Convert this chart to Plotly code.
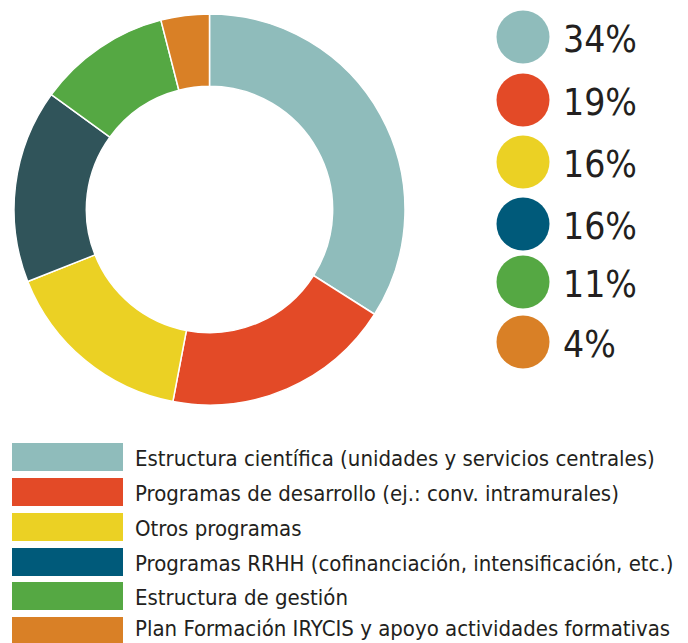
import plotly.graph_objects as go

categories = [
    "Estructura científica (unidades y servicios centrales)",
    "Programas de desarrollo (ej.: conv. intramurales)",
    "Otros programas",
    "Programas RRHH (cofinanciación, intensificación, etc.)",
    "Estructura de gestión",
    "Plan Formación IRYCIS y apoyo actividades formativas",
]
values = [34, 19, 16, 16, 11, 4]
pct_labels = ["34%", "19%", "16%", "16%", "11%", "4%"]
pie_colors = ["#8fbcbb", "#e34a27", "#ebd124", "#30545a", "#55a843", "#d98026"]
legend_colors = ["#8fbcbb", "#e34a27", "#ebd124", "#005a7a", "#55a843", "#d98026"]

# page has an 8px body margin; compensate so coordinates map to window pixels
OFF = 8
W, H = 688, 643
FW, FH = W - OFF, H - OFF
TEXT = "#231f20"
FONT = "DejaVu Sans Condensed, DejaVu Sans, sans-serif"


def px_x(v):
    return (v - OFF) / FW


def px_y(v):
    return 1 - (v - OFF) / FH


fig = go.Figure()

fig.add_trace(go.Pie(
    labels=categories,
    values=values,
    marker=dict(colors=pie_colors, line=dict(color="white", width=1.5)),
    hole=0.63,
    sort=False,
    direction="clockwise",
    rotation=0,
    textinfo="none",
    hoverinfo="label+percent",
    showlegend=False,
    domain=dict(x=[px_x(14), px_x(405)], y=[px_y(405), px_y(14)]),
))

# right-side circle legend
circle_y = [37, 100, 162, 224, 282, 342]
fig.add_trace(go.Scatter(
    x=[523] * len(values),
    y=circle_y,
    mode="markers",
    marker=dict(size=53, color=legend_colors, line=dict(width=0)),
    hoverinfo="skip",
    showlegend=False,
    xaxis="x", yaxis="y",
))
for yy, t in zip(circle_y, pct_labels):
    fig.add_annotation(x=561, y=yy + 2, xref="x", yref="y", text=t,
                       showarrow=False, xanchor="left", yanchor="middle",
                       font=dict(family=FONT, size=37, color=TEXT))

# bottom rectangle legend
rect_top = [443, 478, 513, 548, 582, 617]
for i, (yt, c, cat) in enumerate(zip(rect_top, legend_colors, categories)):
    fig.add_shape(type="rect", xref="x", yref="y", x0=12, x1=123,
                  y0=yt, y1=min(yt + 28, H), fillcolor=c, line=dict(width=0))
    ty = yt + 15 if i < len(categories) - 1 else yt + 11
    fig.add_annotation(x=133, y=ty, xref="x", yref="y", text=cat,
                       showarrow=False, xanchor="left", yanchor="middle",
                       font=dict(family=FONT, size=22, color=TEXT))

fig.update_layout(
    width=FW, height=FH,
    margin=dict(l=0, r=0, t=0, b=0),
    paper_bgcolor="white", plot_bgcolor="rgba(0,0,0,0)",
    xaxis=dict(range=[OFF, W], visible=False, fixedrange=True, domain=[0, 1]),
    yaxis=dict(range=[H, OFF], visible=False, fixedrange=True, domain=[0, 1]),
    showlegend=False,
)

fig.write_html("out.html")
